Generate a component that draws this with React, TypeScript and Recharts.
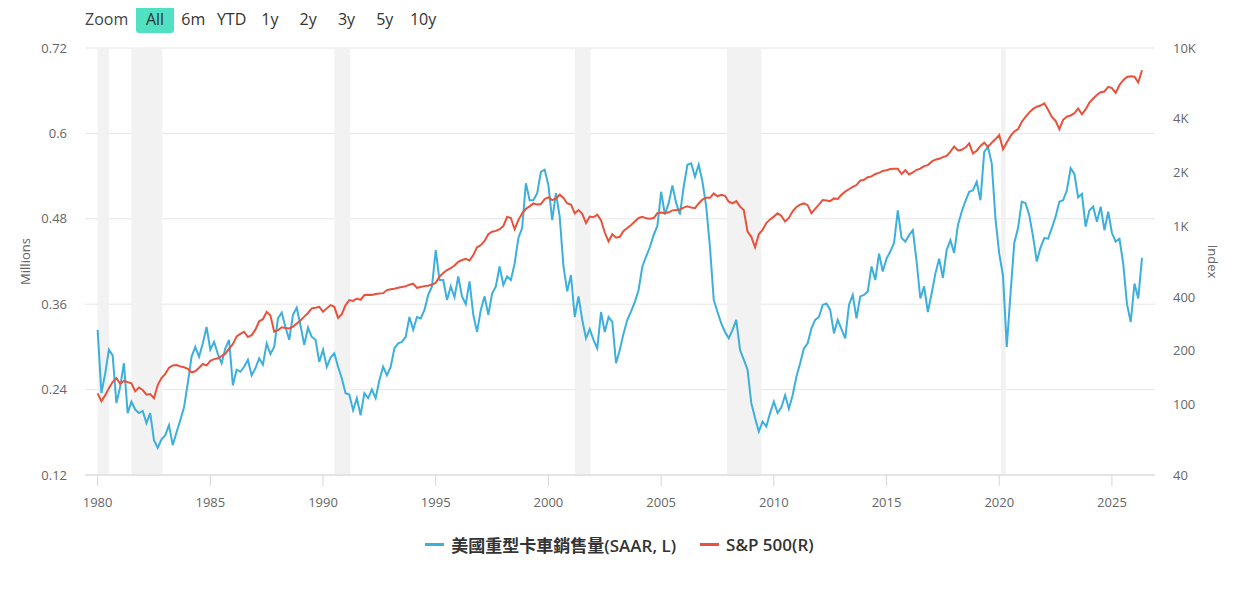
import React from "react";
import {
  ComposedChart,
  Line,
  XAxis,
  YAxis,
  CartesianGrid,
  ReferenceArea,
  Legend,
  Label,
} from "recharts";

// bi-monthly samples from Jan 1980
const START_YEAR = 1980;
const STEP = 1 / 6;

// US heavy truck sales, SAAR, millions (left axis)
const truckSales = [
  0.324, 0.235, 0.262, 0.296, 0.288, 0.221, // 1980
  0.244, 0.277, 0.207, 0.223, 0.212, 0.207, // 1981
  0.21, 0.193, 0.207, 0.169, 0.158, 0.17, // 1982
  0.176, 0.19, 0.162, 0.18, 0.197, 0.215, // 1983
  0.249, 0.286, 0.3, 0.286, 0.305, 0.328, // 1984
  0.296, 0.307, 0.29, 0.277, 0.298, 0.31, // 1985
  0.246, 0.268, 0.265, 0.272, 0.282, 0.26, // 1986
  0.27, 0.284, 0.275, 0.305, 0.29, 0.3, // 1987
  0.34, 0.348, 0.328, 0.31, 0.345, 0.355, // 1988
  0.33, 0.303, 0.327, 0.314, 0.31, 0.279, // 1989
  0.296, 0.272, 0.285, 0.291, 0.272, 0.256, // 1990
  0.235, 0.233, 0.211, 0.228, 0.204, 0.235, // 1991
  0.228, 0.24, 0.228, 0.253, 0.272, 0.26, // 1992
  0.272, 0.298, 0.305, 0.307, 0.314, 0.342, // 1993
  0.324, 0.342, 0.34, 0.352, 0.373, 0.385, // 1994
  0.436, 0.394, 0.394, 0.366, 0.385, 0.37, // 1995
  0.399, 0.371, 0.36, 0.392, 0.345, 0.321, // 1996
  0.352, 0.371, 0.345, 0.375, 0.385, 0.413, // 1997
  0.387, 0.399, 0.394, 0.417, 0.453, 0.467, // 1998
  0.53, 0.506, 0.506, 0.516, 0.546, 0.549, // 1999
  0.527, 0.478, 0.516, 0.483, 0.413, 0.378, // 2000
  0.401, 0.342, 0.371, 0.338, 0.312, 0.325, // 2001
  0.31, 0.298, 0.349, 0.321, 0.342, 0.335, // 2002
  0.277, 0.296, 0.319, 0.338, 0.35, 0.363, // 2003
  0.38, 0.413, 0.427, 0.44, 0.457, 0.47, // 2004
  0.518, 0.486, 0.502, 0.527, 0.502, 0.486, // 2005
  0.525, 0.556, 0.558, 0.539, 0.556, 0.532, // 2006
  0.497, 0.44, 0.366, 0.349, 0.333, 0.321, // 2007
  0.312, 0.324, 0.338, 0.296, 0.282, 0.268, // 2008
  0.221, 0.2, 0.181, 0.195, 0.188, 0.207, // 2009
  0.223, 0.207, 0.215, 0.232, 0.213, 0.232, // 2010
  0.258, 0.277, 0.298, 0.305, 0.326, 0.338, // 2011
  0.342, 0.359, 0.361, 0.352, 0.319, 0.338, // 2012
  0.325, 0.312, 0.359, 0.373, 0.34, 0.371, // 2013
  0.373, 0.378, 0.413, 0.394, 0.431, 0.406, // 2014
  0.424, 0.434, 0.446, 0.492, 0.453, 0.448, // 2015
  0.457, 0.464, 0.42, 0.368, 0.385, 0.349, // 2016
  0.375, 0.403, 0.424, 0.397, 0.436, 0.45, // 2017
  0.432, 0.471, 0.49, 0.505, 0.518, 0.52, // 2018
  0.532, 0.506, 0.574, 0.581, 0.558, 0.48, // 2019
  0.431, 0.4, 0.3, 0.375, 0.446, 0.467, // 2020
  0.504, 0.502, 0.485, 0.455, 0.42, 0.44, // 2021
  0.453, 0.452, 0.467, 0.483, 0.504, 0.506, // 2022
  0.52, 0.551, 0.543, 0.51, 0.515, 0.469, // 2023
  0.492, 0.497, 0.476, 0.497, 0.464, 0.49, // 2024
  0.46, 0.448, 0.452, 0.417, 0.36, 0.335, // 2025
  0.389, 0.368, 0.425, // 2026
];

// S&P 500 index level (right axis, log)
const spx = [
  115, 104, 112, 123, 133, 140, // 1980
  130, 135, 133, 131, 118, 124, // 1981
  120, 113, 114, 108, 128, 140, // 1982
  148, 160, 165, 166, 163, 161, // 1983
  158, 151, 153, 160, 168, 165, // 1984
  175, 179, 181, 186, 192, 205, // 1985
  217, 240, 248, 255, 238, 244, // 1986
  262, 292, 300, 330, 315, 255, // 1987
  260, 270, 268, 266, 272, 284, // 1988
  295, 310, 325, 345, 348, 352, // 1989
  330, 345, 360, 352, 305, 320, // 1990
  360, 384, 380, 392, 385, 410, // 1991
  412, 410, 415, 418, 420, 437, // 1992
  442, 445, 450, 455, 460, 468, // 1993
  475, 450, 455, 460, 462, 470, // 1994
  480, 520, 545, 566, 580, 600, // 1995
  630, 645, 655, 640, 687, 760, // 1996
  782, 825, 900, 929, 940, 960, // 1997
  1000, 1127, 1110, 960, 1080, 1180, // 1998
  1250, 1290, 1340, 1320, 1330, 1420, // 1999
  1450, 1400, 1430, 1500, 1440, 1340, // 2000
  1320, 1180, 1230, 1170, 1040, 1130, // 2001
  1120, 1160, 1080, 920, 820, 900, // 2002
  860, 870, 940, 975, 1013, 1060, // 2003
  1110, 1127, 1105, 1100, 1110, 1180, // 2004
  1190, 1180, 1195, 1225, 1230, 1240, // 2005
  1270, 1290, 1270, 1260, 1340, 1410, // 2006
  1440, 1440, 1525, 1470, 1500, 1480, // 2007
  1370, 1340, 1380, 1285, 1230, 930, // 2008
  870, 760, 900, 950, 1040, 1090, // 2009
  1130, 1180, 1140, 1060, 1110, 1210, // 2010
  1280, 1320, 1340, 1310, 1180, 1250, // 2011
  1320, 1400, 1390, 1380, 1430, 1420, // 2012
  1500, 1560, 1610, 1660, 1700, 1800, // 2013
  1820, 1880, 1900, 1960, 1990, 2040, // 2014
  2060, 2090, 2100, 2100, 1960, 2060, // 2015
  1950, 2000, 2070, 2100, 2170, 2200, // 2016
  2300, 2360, 2390, 2440, 2480, 2620, // 2017
  2800, 2660, 2680, 2760, 2910, 2560, // 2018
  2650, 2820, 2940, 2780, 2940, 3080, // 2019
  3245, 2700, 2950, 3200, 3400, 3500, // 2020
  3855, 4100, 4350, 4550, 4680, 4750, // 2021
  4890, 4500, 4100, 3900, 3500, 3950, // 2022
  4115, 4180, 4300, 4580, 4250, 4520, // 2023
  4930, 5200, 5450, 5650, 5700, 6050, // 2024
  5950, 5600, 6200, 6600, 6880, 6930, // 2025
  6900, 6400, 7500, // 2026
];

// NBER recessions (start, end) in fractional years
const recessions = [
  [1980.0, 1980.5],
  [1981.5, 1982.87],
  [1990.5, 1991.2],
  [2001.17, 2001.87],
  [2007.92, 2009.45],
  [2020.08, 2020.29],
];

const xTicks = [1980, 1985, 1990, 1995, 2000, 2005, 2010, 2015, 2020, 2025];
const leftTicks = [0.12, 0.24, 0.36, 0.48, 0.6, 0.72];
const rightTicks = [40, 100, 200, 400, 1000, 2000, 4000, 10000];
const rangeButtons = ["All", "6m", "YTD", "1y", "2y", "3y", "5y", "10y"];

const seriesNames = ["美國重型卡車銷售量(SAAR, L)", "S&P 500(R)"];
const BLUE = "#3cafdc";
const RED = "#e8523b";
const seriesColors = [BLUE, RED];

const FONT = '"Open Sans", "Noto Sans CJK TC", sans-serif';

const chartData = truckSales.map((v, i) => ({
  t: START_YEAR + i * STEP,
  truck: v,
  spx: spx[i],
}));

function fmtIndex(v: number) {
  return v >= 1000 ? `${v / 1000}K` : `${v}`;
}

function axisTitle(text: string, dx: number, angle: number) {
  return (props: any) => {
    const vb = props.viewBox || {};
    const cx = vb.x + dx;
    const cy = vb.y + vb.height / 2;
    return (
      <text
        x={cx}
        y={cy}
        fill="#666"
        fontSize={13}
        textAnchor="middle"
        dominantBaseline="central"
        transform={`rotate(${angle} ${cx} ${cy})`}
      >
        {text}
      </text>
    );
  };
}

function LegendContent() {
  return (
    <div
      style={{
        display: "flex",
        justifyContent: "center",
        alignItems: "center",
        height: 24,
        gap: 24,
      }}
    >
      {seriesNames.map((name, i) => (
        <div key={name} style={{ display: "flex", alignItems: "center" }}>
          <span
            style={{
              display: "inline-block",
              width: 19,
              height: 3,
              background: seriesColors[i],
              marginRight: 7,
            }}
          />
          <span style={{ fontSize: 17, fontWeight: 600, color: "#333" }}>
            {name}
          </span>
        </div>
      ))}
    </div>
  );
}

export default function App() {
  return (
    <div style={{ position: "relative", width: 1223, height: 578, fontFamily: FONT }}>
      <ComposedChart
        width={1223}
        height={578}
        data={chartData}
        margin={{ top: 40, right: 0, bottom: 30, left: 0 }}
        style={{ fontFamily: FONT }}
      >
        <CartesianGrid yAxisId="left" vertical={false} stroke="#e6e6e6" />
        {recessions.map(([a, b]) => (
          <ReferenceArea
            key={a}
            yAxisId="left"
            x1={a}
            x2={b}
            fill="#f2f2f2"
            fillOpacity={1}
            stroke="none"
            ifOverflow="hidden"
          />
        ))}
        <XAxis
          dataKey="t"
          type="number"
          domain={[1979.44, 2026.91]}
          allowDataOverflow
          ticks={xTicks}
          tickFormatter={(v) => `${Math.round(v)}`}
          height={57}
          tickSize={11}
          tickMargin={12}
          stroke="#d6d6d6"
          tick={{ fill: "#666", fontSize: 13 }}
        />
        <YAxis
          yAxisId="left"
          orientation="left"
          width={77}
          domain={[0.12, 0.72]}
          ticks={leftTicks}
          allowDataOverflow
          axisLine={false}
          tickLine={false}
          tickSize={6}
          tickMargin={12}
          tick={{ fill: "#666", fontSize: 13 }}
        >
          <Label content={axisTitle("Millions", 17, -90)} />
        </YAxis>
        <YAxis
          yAxisId="right"
          orientation="right"
          width={76}
          scale="log"
          domain={[40, 10000]}
          ticks={rightTicks}
          allowDataOverflow
          axisLine={false}
          tickLine={false}
          tickSize={6}
          tickMargin={12}
          tickFormatter={fmtIndex}
          tick={{ fill: "#666", fontSize: 13 }}
        >
          <Label content={axisTitle("Index", 58, 90)} />
        </YAxis>
        <Line
          yAxisId="left"
          type="linear"
          dataKey="truck"
          name={seriesNames[0]}
          stroke={BLUE}
          strokeWidth={2}
          dot={false}
          isAnimationActive={false}
        />
        <Line
          yAxisId="right"
          type="linear"
          dataKey="spx"
          name={seriesNames[1]}
          stroke={RED}
          strokeWidth={2}
          dot={false}
          isAnimationActive={false}
        />
        <Legend verticalAlign="bottom" content={<LegendContent />} />
      </ComposedChart>
      <div
        style={{
          position: "absolute",
          left: 77,
          top: -2,
          height: 27,
          lineHeight: "27px",
          fontSize: 16,
          color: "#444",
        }}
      >
        Zoom
      </div>
      {rangeButtons.map((b, i) => (
        <div
          key={b}
          style={{
            position: "absolute",
            left: 128 + i * 38.3,
            top: -2,
            width: 38,
            height: 27,
            lineHeight: "27px",
            textAlign: "center",
            fontSize: 16,
            color: "#333",
            background: i === 0 ? "#4fe1c1" : "transparent",
            borderRadius: 3,
          }}
        >
          {b}
        </div>
      ))}
    </div>
  );
}
